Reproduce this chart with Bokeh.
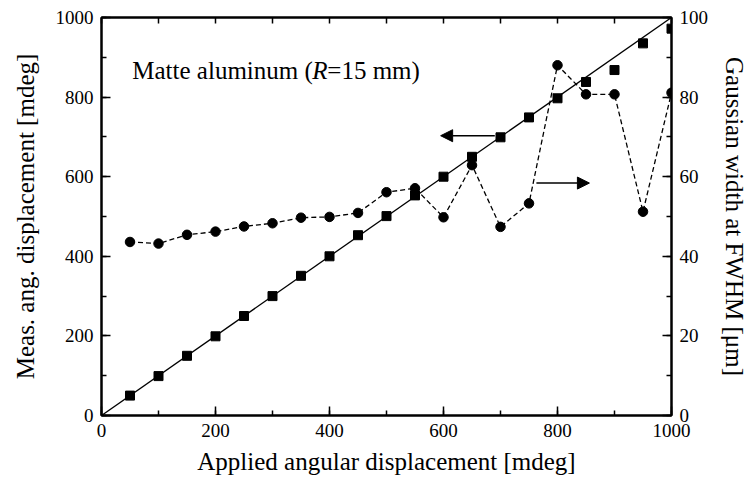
from bokeh.plotting import figure
from bokeh.models import (Range1d, LinearAxis, SingleIntervalTicker, Arrow,
                          NormalHead, Label)
from bokeh.embed import file_html
from bokeh.resources import INLINE

# Applied angular displacement [mdeg]
applied = [50, 100, 150, 200, 250, 300, 350, 400, 450, 500,
           550, 600, 650, 700, 750, 800, 850, 900, 950, 1000]
# Measured angular displacement [mdeg] (left axis)
measured = [50, 99, 150, 199, 250, 300, 351, 400, 453, 501,
            553, 600, 650, 699, 749, 797, 838, 868, 935, 972]
# Gaussian width at FWHM [um] (right axis)
fwhm = [43.6, 43.2, 45.4, 46.2, 47.5, 48.3, 49.7, 49.9, 50.9, 56.1,
        57.1, 49.8, 62.9, 47.4, 53.3, 88.0, 80.7, 80.7, 51.2, 81.1]
# Ideal 1:1 response
ideal_x = [0, 1000]
ideal_y = [0, 1000]

FONT = "'Liberation Serif', 'Times New Roman', serif"

p = figure(width=751, height=488, output_backend="svg", toolbar_location=None,
           x_range=Range1d(0, 1000), y_range=Range1d(0, 1000),
           min_border_left=101, min_border_right=77,
           min_border_top=17, min_border_bottom=73)
p.extra_y_ranges = {"right": Range1d(0, 100)}
p.xgrid.visible = False
p.ygrid.visible = False
p.outline_line_color = "black"
p.outline_line_width = 2
p.background_fill_color = "white"
p.border_fill_color = "white"


def style_axis(ax, interval, minor, label_standoff, title_standoff, tick_in=9):
    ax.ticker = SingleIntervalTicker(interval=interval, num_minor_ticks=minor)
    ax.axis_line_width = 2
    ax.axis_line_color = "black"
    ax.major_tick_in = tick_in
    ax.major_tick_out = 0
    ax.minor_tick_in = 5
    ax.minor_tick_out = 0
    ax.major_tick_line_width = 1.5
    ax.minor_tick_line_width = 1.5
    ax.major_tick_line_color = "black"
    ax.minor_tick_line_color = "black"
    ax.major_label_text_font = FONT
    ax.major_label_text_font_size = "19px"
    ax.major_label_text_color = "black"
    ax.major_label_standoff = label_standoff
    ax.axis_label_text_font = FONT
    ax.axis_label_text_font_size = "25px"
    ax.axis_label_text_font_style = "normal"
    ax.axis_label_text_color = "black"
    ax.axis_label_standoff = title_standoff


p.xaxis.axis_label = "Applied angular displacement [mdeg]"
p.yaxis.axis_label = "Meas. ang. displacement [mdeg]"
style_axis(p.xaxis[0], 200, 2, 8, 8)
style_axis(p.yaxis[0], 200, 2, 8, 14)

right = LinearAxis(y_range_name="right", axis_label="Gaussian width at FWHM [μm]")
style_axis(right, 20, 2, 8, 10)
p.add_layout(right, "right")

# Top frame edge carries unlabelled ticks every 100 mdeg
top = LinearAxis()
style_axis(top, 100, 0, 0, 0, tick_in=6)
top.major_label_overrides = {v: "" for v in range(0, 1001, 100)}
p.add_layout(top, "above")

# 1:1 reference line and measured angles
p.line(ideal_x, ideal_y, line_color="black", line_width=1.3)
p.scatter(applied, measured, marker="square", size=9, fill_color="black",
          line_color="black")

# Gaussian width on the right-hand scale
p.line(applied, fwhm, y_range_name="right", line_color="black",
       line_width=1.3, line_dash="5 3")
p.scatter(applied, fwhm, y_range_name="right", marker="circle", size=9.5,
          fill_color="black", line_color="black")

# Arrows pointing each series to its axis
p.add_layout(Arrow(end=NormalHead(size=12, fill_color="black", line_color="black"),
                   x_start=690, y_start=703, x_end=595, y_end=703,
                   line_color="black", line_width=1.5))
p.add_layout(Arrow(end=NormalHead(size=12, fill_color="black", line_color="black"),
                   x_start=763, y_start=58.4, x_end=856, y_end=58.4,
                   y_range_name="right", line_color="black", line_width=1.5))

# Sample annotation with italic radius symbol
lbl_x, lbl_y = 54, 867
parts = [("Matte aluminum (", "normal", 0),
         ("R", "italic", 180),
         ("=15 mm)", "normal", 195)]
for txt, style, dx in parts:
    p.add_layout(Label(x=lbl_x, y=lbl_y, x_offset=dx, text=txt,
                       text_font=FONT, text_font_size="25px",
                       text_font_style=style, text_color="black",
                       text_baseline="alphabetic", text_align="left"))

open("out.html", "w").write(file_html(p, INLINE))
